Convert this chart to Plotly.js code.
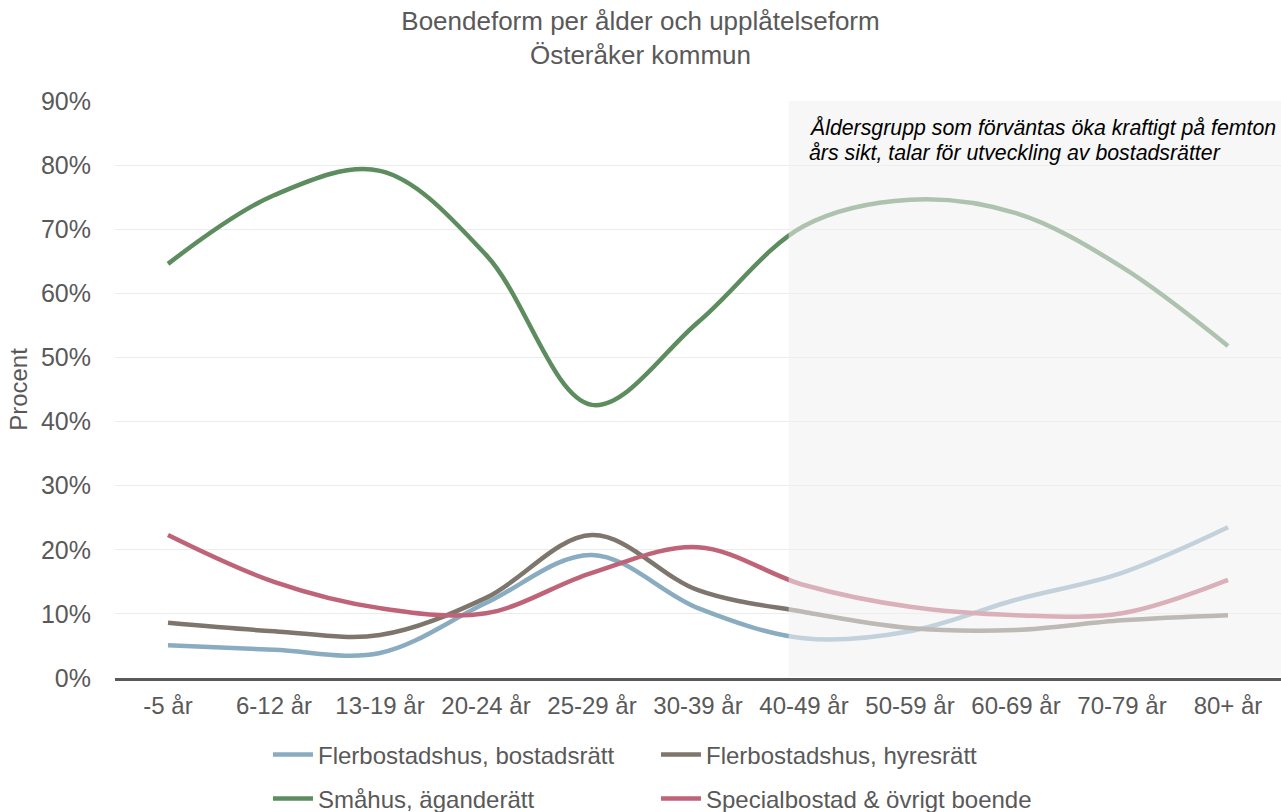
<!DOCTYPE html>
<html>
<head>
<meta charset="utf-8">
<script src="https://cdn.plot.ly/plotly-3.0.1.min.js"></script>
<style>html,body{margin:0;padding:0;background:#fff;}#chart{width:1281px;height:812px;}</style>
</head>
<body>
<div id="chart"></div>
<script>
const categories = ["-5 år","6-12 år","13-19 år","20-24 år","25-29 år","30-39 år","40-49 år","50-59 år","60-69 år","70-79 år","80+ år"];
const bostadsratt = [5.1, 4.4, 3.9, 11.7, 19.2, 10.9, 6.2, 7.3, 12.2, 16.4, 23.5];
const hyresratt   = [8.6, 7.3, 6.7, 12.5, 22.3, 13.7, 10.3, 7.8, 7.5, 9.0, 9.8];
const smahus      = [64.6, 75.3, 79.1, 66.0, 42.6, 55.5, 70.5, 74.6, 72.5, 64.1, 51.8];
const special     = [22.3, 15.0, 10.9, 10.1, 16.4, 20.4, 14.5, 11.1, 9.8, 10.1, 15.3];
const seriesNames = ["Flerbostadshus, bostadsrätt","Flerbostadshus, hyresrätt","Småhus, äganderätt","Specialbostad & övrigt boende"];
const annotationLines = ["Åldersgrupp som förväntas öka kraftigt på femton","års sikt, talar för utveckling av bostadsrätter"];

const colors = ["#8aacc0","#7e756c","#5d8c5f","#bf6478"];
const values = [bostadsratt, hyresratt, smahus, special];
const legendIds = ["legend","legend","legend2","legend2"];

const traces = values.map((v,i)=>({
  type:"scatter", mode:"lines", x:categories, y:v, name:seriesNames[i],
  line:{color:colors[i], width:4.5, shape:"spline", smoothing:1},
  legend: legendIds[i], hoverinfo:"skip"
}));

const font = {family:"Liberation Sans, Arial, sans-serif", color:"#595959"};

const layout = {
  width:1281, height:812,
  margin:{l:115, r:0, t:101, b:134, autoexpand:false},
  paper_bgcolor:"#fff", plot_bgcolor:"#fff",
  font:font,
  title:{text:"Boendeform per ålder och upplåtelseform<br>Österåker kommun", x:0.5, xanchor:"center",
         yref:"container", y:1-30/812, yanchor:"middle",
         font:{family:font.family, size:26, color:"#595959"}},
  xaxis:{type:"category", range:[-0.5,10.5], showgrid:false, zeroline:false,
         showline:true, linecolor:"#595959", linewidth:2.5, ticks:"", ticklabelstandoff:5,
         tickfont:{size:24, color:"#595959"}, fixedrange:true},
  yaxis:{range:[0,90], dtick:10, ticksuffix:"%", showgrid:true, gridcolor:"#ececec", gridwidth:1,
         zeroline:false, showline:false, tickfont:{size:25, color:"#595959"}, ticklen:0, ticks:"",
         ticklabelstandoff:23,
         title:{text:"Procent", font:{size:24, color:"#595959"}, standoff:6}, fixedrange:true},
  shapes:[{type:"rect", xref:"x", yref:"y", x0:5.855, x1:10.6, y0:0.25, y1:90,
           fillcolor:"rgba(240,240,240,0.55)", line:{width:0}, layer:"above"}],
  annotations:[
    {xref:"paper", yref:"paper", x:0.5935, y:(678-128)/577, xanchor:"left", yanchor:"middle", showarrow:false,
     text:"<i>"+annotationLines[0]+"</i>", font:{size:21.3, color:"#000"}},
    {xref:"paper", yref:"paper", x:0.5935, y:(678-153)/577, xanchor:"left", yanchor:"middle", showarrow:false,
     text:"<i>"+annotationLines[1]+"</i>", font:{size:21.3, color:"#000"}}
  ],
  legend:{orientation:"h", x:0.1312, xanchor:"left", yref:"container", y:1-755/812, yanchor:"middle",
          font:{size:24, color:"#595959"}, entrywidth:333, bgcolor:"rgba(0,0,0,0)", itemwidth:40, tracegroupgap:0},
  legend2:{orientation:"h", x:0.1312, xanchor:"left", yref:"container", y:1-799/812, yanchor:"middle",
          font:{size:24, color:"#595959"}, entrywidth:333, bgcolor:"rgba(0,0,0,0)", itemwidth:40, tracegroupgap:0},
  showlegend:true
};

Plotly.newPlot("chart", traces, layout, {displayModeBar:false, staticPlot:true});
</script>
</body>
</html>
